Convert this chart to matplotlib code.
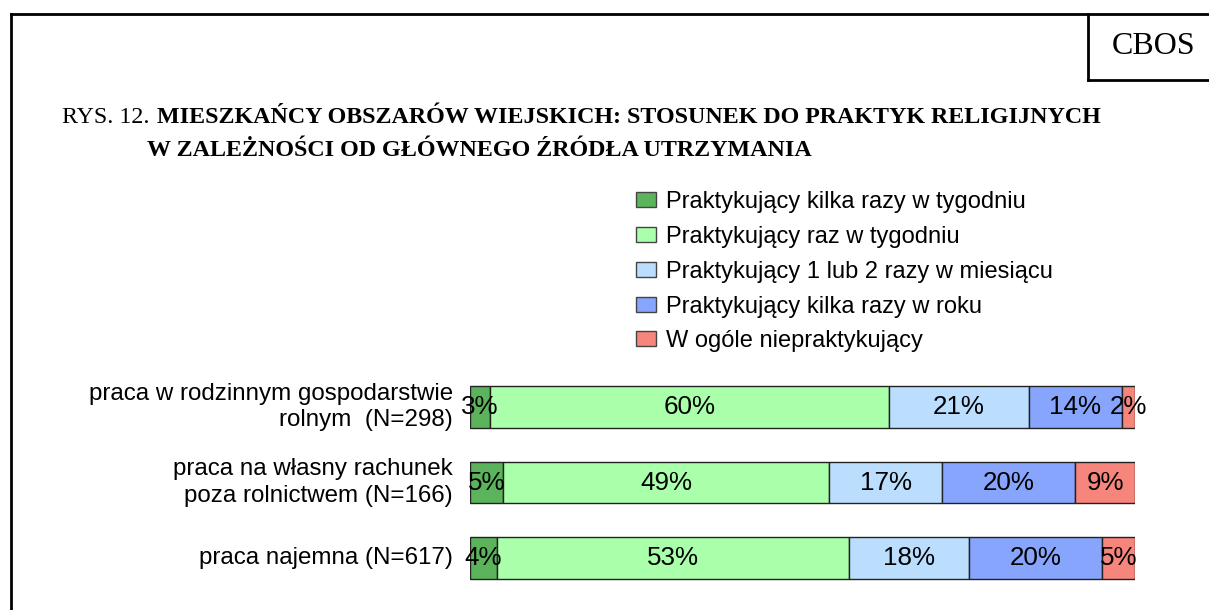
import matplotlib.pyplot as plt
import numpy as np
from matplotlib.lines import Line2D
from matplotlib.patches import Patch

# dane z rysunku
groups = ["praca w rodzinnym gospodarstwie\nrolnym  (N=298)",
          "praca na własny rachunek\npoza rolnictwem (N=166)",
          "praca najemna (N=617)"]
series = ["Praktykujący kilka razy w tygodniu",
          "Praktykujący raz w tygodniu",
          "Praktykujący 1 lub 2 razy w miesiącu",
          "Praktykujący kilka razy w roku",
          "W ogóle niepraktykujący"]
kilka_tydz = [3, 5, 4]
raz_tydz = [60, 49, 53]
raz_mies = [21, 17, 18]
kilka_rok = [14, 20, 20]
wcale = [2, 9, 5]
colors = ["#5bb35b", "#aaffaa", "#bbdeff", "#87a5fd", "#f6857b"]

W, H = 1209, 610
fig = plt.figure(figsize=(W / 100, H / 100), dpi=100)
sans = "Liberation Sans"
serif = "Liberation Serif"

def fx(px):
    return px / W

def fy(py):
    return 1 - py / H

# ramka i pole CBOS
fig.add_artist(Line2D([fx(11), fx(11)], [fy(14), 0], color="black", lw=2, transform=fig.transFigure))
fig.add_artist(Line2D([fx(11), 1], [fy(14), fy(14)], color="black", lw=2, transform=fig.transFigure))
fig.add_artist(Line2D([fx(1088), fx(1088)], [fy(14), fy(80)], color="black", lw=2, transform=fig.transFigure))
fig.add_artist(Line2D([fx(1088), 1], [fy(80), fy(80)], color="black", lw=2, transform=fig.transFigure))
fig.text(fx(1154), fy(46), "CBOS", family=serif, fontsize=23, ha="center", va="center")

# tytuł
fig.text(fx(62), fy(117), "RYS. 12.", family=serif, fontsize=17.3, ha="left", va="center")
fig.text(fx(157), fy(117), "MIESZKAŃCY OBSZARÓW WIEJSKICH: STOSUNEK DO PRAKTYK RELIGIJNYCH",
         family=serif, fontsize=17.3, weight="bold", ha="left", va="center")
fig.text(fx(147), fy(150), "W ZALEŻNOŚCI OD GŁÓWNEGO ŹRÓDŁA UTRZYMANIA",
         family=serif, fontsize=17.3, weight="bold", ha="left", va="center")

# wykres słupkowy
ax = fig.add_axes([fx(470), fy(595.75), fx(665), 226.5 / H])
data = np.array([kilka_tydz, raz_tydz, raz_mies, kilka_rok, wcale])
y = np.arange(len(groups))
left = np.zeros(len(groups))
for i, vals in enumerate(data):
    ax.barh(y, vals, left=left, height=0.55, color=colors[i], edgecolor="#222222", linewidth=1)
    for j, v in enumerate(vals):
        ax.text(left[j] + v / 2, y[j], f"{v}%", ha="center", va="center",
                family=sans, fontsize=18.7)
    left += vals
ax.set_xlim(0, 100)
ax.set_ylim(len(groups) - 0.5, -0.5)
ax.axis("off")
for j, g in enumerate(groups):
    ax.text(-2.6, y[j], g, ha="right", va="center", family=sans, fontsize=17.4, linespacing=1.25)

# legenda
handles = [Patch(facecolor=c, edgecolor="#444444", linewidth=1) for c in colors]
fig.legend(handles, series, loc="upper left", bbox_to_anchor=(fx(615), fy(170)),
           frameon=False, prop={"family": sans, "size": 17.0},
           handlelength=0.85, handleheight=0.6, handletextpad=0.42, labelspacing=0.54)

fig.savefig("out.png", dpi=100)
